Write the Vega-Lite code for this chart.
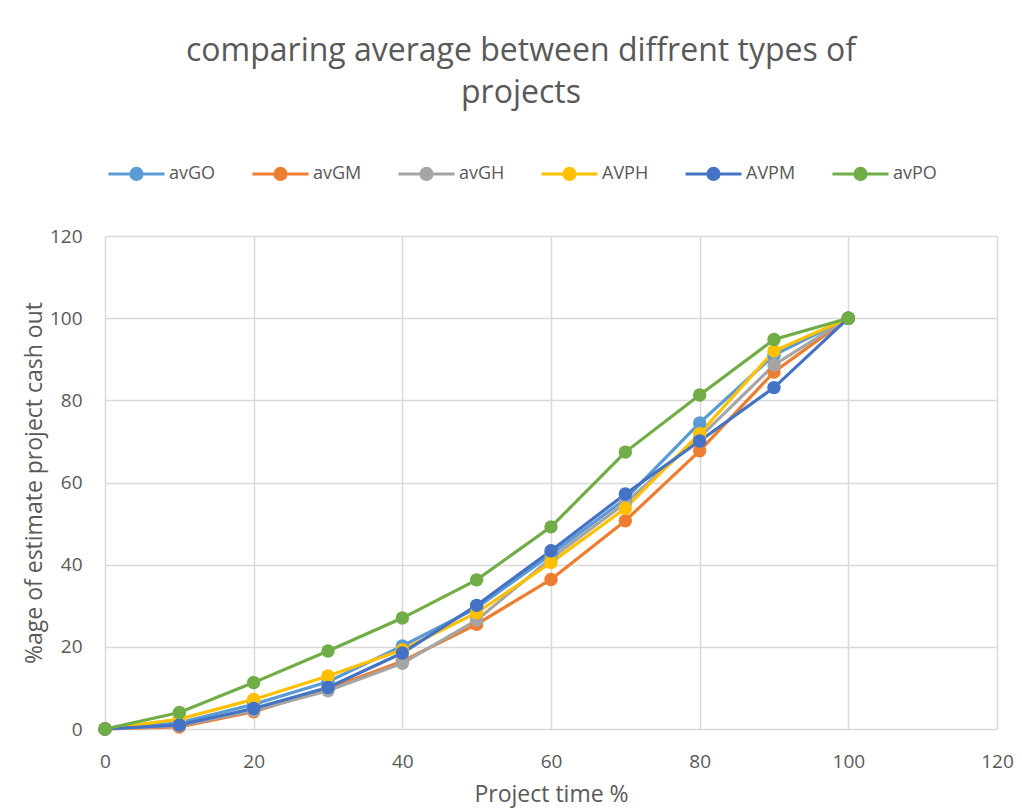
{
  "$schema": "https://vega.github.io/schema/vega-lite/v6.json",
  "width": 892,
  "height": 493,
  "autosize": {"type": "none"},
  "padding": {"left": 105, "top": 236, "right": 25, "bottom": 81},
  "background": "white",
  "title": {
    "text": ["comparing average between diffrent types of", "projects"],
    "anchor": "middle",
    "frame": "group",
    "font": "Open Sans",
    "fontSize": 32,
    "fontWeight": "normal",
    "color": "#595959",
    "lineHeight": 42,
    "offset": 34,
    "dx": -30
  },
  "config": {
    "view": {"stroke": null},
    "font": "Open Sans",
    "axis": {
      "labelFont": "Open Sans",
      "labelFontSize": 19,
      "labelColor": "#595959",
      "labelFlush": false,
      "titleFont": "Open Sans",
      "titleFontSize": 23,
      "titleFontWeight": "normal",
      "titleColor": "#595959",
      "gridColor": "#D9D9D9",
      "gridWidth": 1.5,
      "ticks": false,
      "domain": false
    },
    "legend": {
      "labelFont": "Open Sans",
      "labelFontSize": 18,
      "labelColor": "#595959"
    }
  },
  "data": {
    "values": [
      {"t": 0, "s": "avGO", "v": 0}, {"t": 10, "s": "avGO", "v": 1.5}, {"t": 20, "s": "avGO", "v": 6}, {"t": 30, "s": "avGO", "v": 11.5}, {"t": 40, "s": "avGO", "v": 20.2}, {"t": 50, "s": "avGO", "v": 29.5}, {"t": 60, "s": "avGO", "v": 42.5}, {"t": 70, "s": "avGO", "v": 56}, {"t": 80, "s": "avGO", "v": 74.5}, {"t": 90, "s": "avGO", "v": 91}, {"t": 100, "s": "avGO", "v": 100},
      {"t": 0, "s": "avGM", "v": 0}, {"t": 10, "s": "avGM", "v": 0.5}, {"t": 20, "s": "avGM", "v": 4.2}, {"t": 30, "s": "avGM", "v": 9.8}, {"t": 40, "s": "avGM", "v": 16.5}, {"t": 50, "s": "avGM", "v": 25.5}, {"t": 60, "s": "avGM", "v": 36.4}, {"t": 70, "s": "avGM", "v": 50.7}, {"t": 80, "s": "avGM", "v": 67.7}, {"t": 90, "s": "avGM", "v": 86.9}, {"t": 100, "s": "avGM", "v": 100},
      {"t": 0, "s": "avGH", "v": 0}, {"t": 10, "s": "avGH", "v": 0.8}, {"t": 20, "s": "avGH", "v": 4.5}, {"t": 30, "s": "avGH", "v": 9.3}, {"t": 40, "s": "avGH", "v": 16}, {"t": 50, "s": "avGH", "v": 26.5}, {"t": 60, "s": "avGH", "v": 41.5}, {"t": 70, "s": "avGH", "v": 55}, {"t": 80, "s": "avGH", "v": 71}, {"t": 90, "s": "avGH", "v": 88.6}, {"t": 100, "s": "avGH", "v": 100},
      {"t": 0, "s": "AVPH", "v": 0}, {"t": 10, "s": "AVPH", "v": 2.4}, {"t": 20, "s": "AVPH", "v": 7.2}, {"t": 30, "s": "AVPH", "v": 12.9}, {"t": 40, "s": "AVPH", "v": 19.3}, {"t": 50, "s": "AVPH", "v": 28.3}, {"t": 60, "s": "AVPH", "v": 40.5}, {"t": 70, "s": "AVPH", "v": 53.7}, {"t": 80, "s": "AVPH", "v": 71.9}, {"t": 90, "s": "AVPH", "v": 92}, {"t": 100, "s": "AVPH", "v": 100},
      {"t": 0, "s": "AVPM", "v": 0}, {"t": 10, "s": "AVPM", "v": 1}, {"t": 20, "s": "AVPM", "v": 5}, {"t": 30, "s": "AVPM", "v": 10.1}, {"t": 40, "s": "AVPM", "v": 18.5}, {"t": 50, "s": "AVPM", "v": 30.1}, {"t": 60, "s": "AVPM", "v": 43.4}, {"t": 70, "s": "AVPM", "v": 57.2}, {"t": 80, "s": "AVPM", "v": 70.1}, {"t": 90, "s": "AVPM", "v": 83.1}, {"t": 100, "s": "AVPM", "v": 100},
      {"t": 0, "s": "avPO", "v": 0}, {"t": 10, "s": "avPO", "v": 4}, {"t": 20, "s": "avPO", "v": 11.3}, {"t": 30, "s": "avPO", "v": 19}, {"t": 40, "s": "avPO", "v": 27}, {"t": 50, "s": "avPO", "v": 36.3}, {"t": 60, "s": "avPO", "v": 49.2}, {"t": 70, "s": "avPO", "v": 67.4}, {"t": 80, "s": "avPO", "v": 81.3}, {"t": 90, "s": "avPO", "v": 94.8}, {"t": 100, "s": "avPO", "v": 100}
    ]
  },
  "encoding": {
    "x": {
      "field": "t", "type": "quantitative",
      "scale": {"domain": [0, 120], "nice": false},
      "axis": {"values": [0, 20, 40, 60, 80, 100, 120], "title": "Project time %", "labelPadding": 23, "titlePadding": 12}
    },
    "y": {
      "field": "v", "type": "quantitative",
      "scale": {"domain": [0, 120], "nice": false},
      "axis": {"values": [0, 20, 40, 60, 80, 100, 120], "title": "%age of estimate project cash out", "labelPadding": 23, "titlePadding": 3}
    },
    "color": {
      "field": "s", "type": "nominal",
      "scale": {
        "domain": ["avGO", "avGM", "avGH", "AVPH", "AVPM", "avPO"],
        "range": ["#5B9BD5", "#ED7D31", "#A5A5A5", "#FFC000", "#4472C4", "#70AD47"]
      },
      "legend": {
        "title": null,
        "orient": "none",
        "direction": "horizontal",
        "legendX": 2,
        "legendY": -92,
        "symbolType": "M-1,0H1M0.2,0A0.2,0.2 0 1,1 -0.2,0A0.2,0.2 0 1,1 0.2,0Z",
        "symbolSize": 3136,
        "symbolStrokeWidth": 3,
        "labelOffset": 3,
        "columnPadding": 30,
        "encode": {
          "symbols": {
            "update": {
              "stroke": {"scale": "color", "field": "value"},
              "fill": {"scale": "color", "field": "value"},
              "strokeWidth": {"value": 3},
              "opacity": {"value": 1}
            }
          }
        }
      }
    }
  },
  "layer": [
    {"mark": {"type": "line", "strokeWidth": 3.2}},
    {"mark": {"type": "circle", "size": 180, "opacity": 1}}
  ]
}
